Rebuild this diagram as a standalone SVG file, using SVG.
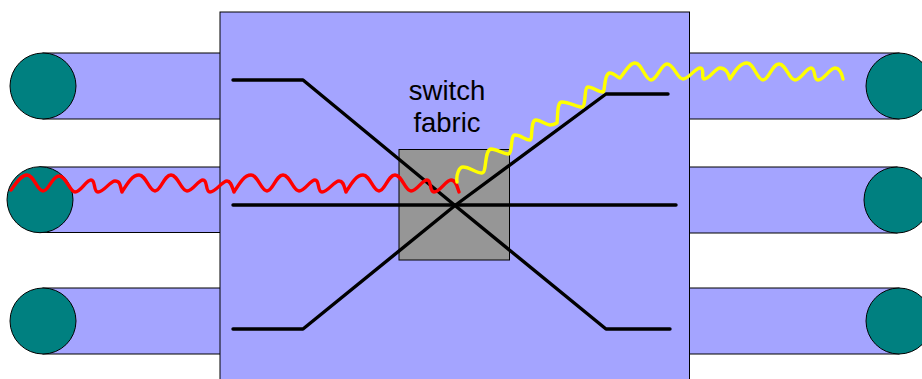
<svg xmlns="http://www.w3.org/2000/svg" width="922" height="379" viewBox="0 0 922 379">
<style>
.tube{fill:#a4a4ff;stroke:#000;stroke-width:1}
.port{fill:#008080;stroke:#000;stroke-width:1}
.path{fill:none;stroke:#000;stroke-width:3.4;stroke-linecap:round;stroke-linejoin:round}
.wave{fill:none;stroke-width:3.4;stroke-linecap:round;stroke-linejoin:round}
text{font-family:"Liberation Sans",Arial,sans-serif;font-size:27.5px;fill:#000;text-anchor:middle}
</style>
<rect width="922" height="379" fill="#fff"/>
<g id="input-1"><rect class="tube" x="43" y="53" width="180" height="66"/><circle class="port" cx="43" cy="86" r="33"/></g>
<g id="input-2"><rect class="tube" x="40" y="167" width="183" height="65.5"/><circle class="port" cx="40" cy="199.7" r="33"/></g>
<g id="input-3"><rect class="tube" x="43" y="288" width="180" height="66"/><circle class="port" cx="43" cy="321" r="33"/></g>
<g id="output-1"><rect class="tube" x="686" y="53" width="213" height="66"/><circle class="port" cx="899" cy="86" r="33"/></g>
<g id="output-2"><rect class="tube" x="686" y="167" width="211" height="66"/><circle class="port" cx="897" cy="200" r="33"/></g>
<g id="output-3"><rect class="tube" x="686" y="288" width="213" height="66"/><circle class="port" cx="899" cy="321" r="33"/></g>
<g id="router"><rect class="tube" x="220" y="12" width="469.5" height="372"/></g>
<g id="switch-fabric"><rect x="399" y="149.5" width="110.5" height="110.5" fill="#969696" stroke="#000" stroke-width="1"/>
<text x="447" y="100">switch</text><text x="447" y="132">fabric</text></g>
<g id="connectors">
<polyline class="path" points="233,80 303,80 455,205.5 606,329 670,329"/>
<polyline class="path" points="233,329 303,329 455,205.5 606,94 668,94"/>
<polyline class="path" points="233,205 676,205"/>
<path class="wave" stroke="#ff0000" d="M11,190 C16,183 21,175 27,175 C34,175 37,191 43,191 C49,191 52,176 59,176 C66,176 70,192 75,192 C81,192 86,180 91,180 C96,180 93,192 98,192 C104,192 110,181 115,181 C121,181 120,187 122,192 C127,184 132,175 139,175 C146,175 149,191 155,191 C161,191 164,175 171,175 C178,175 181,191 187,191 C193,191 198,180 203,180 C208,180 205,192 210,192 C216,192 222,181 227,181 C231,181 232,187 234,192 C239,184 244,175 251,175 C258,175 261,191 267,191 C273,191 276,175 283,175 C290,175 293,191 299,191 C305,191 310,180 315,180 C320,180 317,192 322,192 C328,192 334,181 339,181 C344,181 344,187 346,192 C351,184 356,175 363,175 C370,175 373,191 379,191 C385,191 388,175 395,175 C402,175 405,191 411,191 C417,191 422,180 427,180 C432,180 429,192 434,192 C440,192 446,180 451,180 C456,180 457,186 459,192"/>
<path class="wave" stroke="#ffff00" d="M457,182 C456,175 459,167 463,167 C470,167 476,173 482,173 C487,173 484,150 491,149 C497,149 503,154 508,154 C513,154 510,135 515,135 C521,135 525,140 530,140 C533,140 530,120 536,120 C541,120 546,125 550,125 C553,125 555,124 557,123 C558,113 557,102 562,102 C569,102 577,107 582,107 C586,107 584,87 588,87 C593,87 598,92 603,92 C605,92 604,73 610,73 C614,73 618,78 620,78 C624,74 629,63 635,63 C642,63 645,80 651,80 C657,80 661,64 667,64 C674,64 677,79 683,79 C689,79 695,68 700,68 C705,68 701,79 704,79 C710,79 715,68 720,68 C726,68 728,73 730,79 C735,71 740,63 747,63 C754,63 757,80 763,80 C769,80 772,64 779,64 C786,64 789,80 795,80 C801,80 806,68 811,68 C816,68 813,80 818,80 C824,80 830,68 835,68 C840,68 842,74 843,79"/>
</g>
</svg>
